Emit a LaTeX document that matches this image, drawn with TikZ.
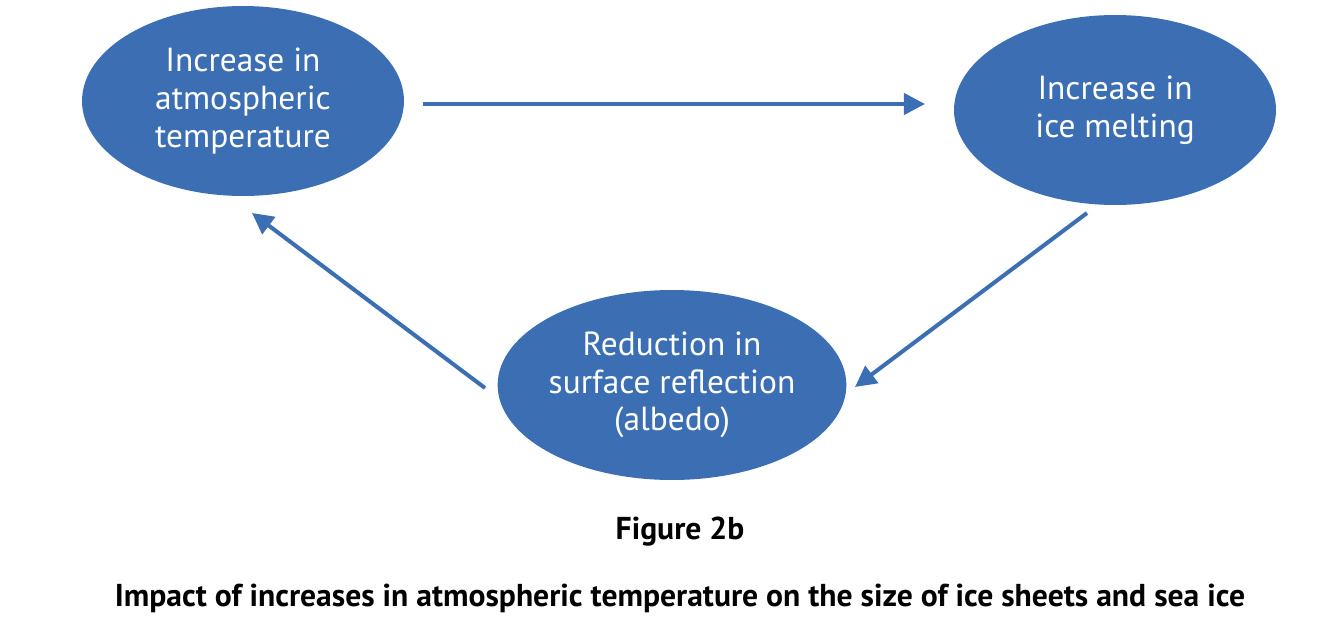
\documentclass[tikz,border=0pt]{standalone}
\usepackage{fontspec}
\setmainfont{PT Sans}
\usetikzlibrary{shapes, positioning, calc, arrows.meta}
\definecolor{iceblue}{HTML}{3C6EB4}

\begin{document}
\begin{tikzpicture}[x=0.02cm, y=-0.02cm,
    stage/.style={ellipse, 
      fill=iceblue, 
      inner sep=0pt, 
      minimum width=6.44cm, 
      minimum height=3.8cm, 
      align=center, 
      text=white, 
      font=\fontsize{19}{21.5}\selectfont},
    link/.style={draw=iceblue, 
      line width=2.3pt, 
      -{Triangle[length=12pt, width=12pt]}}]
  \useasboundingbox (0,0) rectangle (1328,622);

% STAGES

  \node [stage] (warming) at (243,101) {Increase in\\atmospheric\\temperature};
  \node [stage] (melting) at (1115,110) {Increase in\\ice melting};
  \node [stage] (albedo) at (672,385) {Reduction in\\surface reflection\\(albedo)};

  % CAPTION

  \node [font=\bfseries\fontsize{18}{21}\selectfont] (figtitle) at (680,532) {Figure 2b};
  \node [font=\bfseries\fontsize{18}{21}\selectfont] (caption) at (680,598) 
    {Impact of increases in atmospheric temperature on the size of ice sheets and sea ice};

  % LINKS

  \coordinate (warmout) at (423,104);
  \coordinate (meltin) at (925,104);
  \coordinate (meltout) at (1087,213);
  \coordinate (albin) at (855,387);
  \coordinate (albout) at (485,388);
  \coordinate (warmin) at (252,213);

  \draw[link] (warmout) -- (meltin);
  \draw[link] (meltout) -- (albin);
  \draw[link] (albout) -- (warmin);

\end{tikzpicture}
\end{document}
